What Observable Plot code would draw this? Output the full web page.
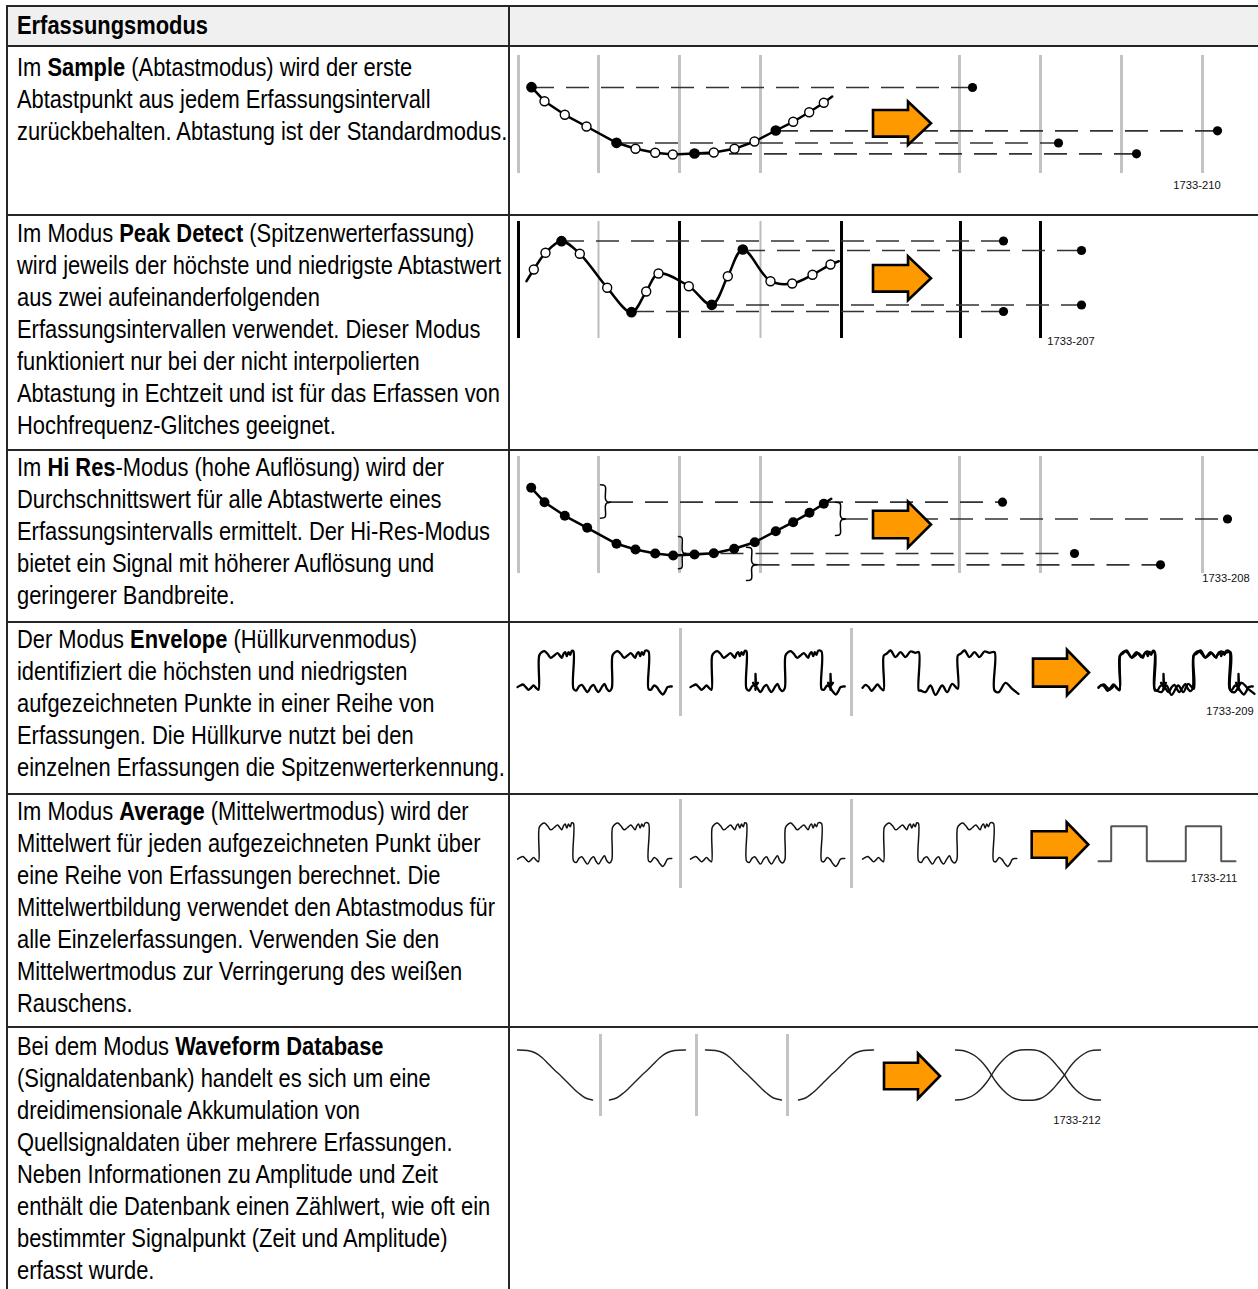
<!DOCTYPE html>
<html><head><meta charset="utf-8">
<script src="https://cdn.jsdelivr.net/npm/d3@7"></script>
<script src="https://cdn.jsdelivr.net/npm/@observablehq/plot@0.6"></script>
<style>
html,body{margin:0;padding:0;background:#fff;}
#page{position:relative;width:1258px;height:1289px;overflow:hidden;background:#fff;color:#000;}
.ln{position:absolute;background:#262626;}
.tx{position:absolute;left:17px;white-space:nowrap;font-size:26.7px;line-height:32px;transform-origin:0 0;}
</style>
</head><body><div id="page"></div>
<script>
// ---------------- table structure & text ----------------
const headerLabel = "Erfassungsmodus";
const rowTops = [46, 215, 450, 622, 794, 1027];
const rowBottoms = [215, 450, 622, 794, 1027, 1289];
const firstLineCenters = [67, 233, 467, 639, 811, 1046];
const modeTexts = [
  ["Im <b>Sample</b> (Abtastmodus) wird der erste", "Abtastpunkt aus jedem Erfassungsintervall", "zurückbehalten. Abtastung ist der Standardmodus."],
  ["Im Modus <b>Peak Detect</b> (Spitzenwerterfassung)", "wird jeweils der höchste und niedrigste Abtastwert", "aus zwei aufeinanderfolgenden", "Erfassungsintervallen verwendet. Dieser Modus", "funktioniert nur bei der nicht interpolierten", "Abtastung in Echtzeit und ist für das Erfassen von", "Hochfrequenz-Glitches geeignet."],
  ["Im <b>Hi Res</b>-Modus (hohe Auflösung) wird der", "Durchschnittswert für alle Abtastwerte eines", "Erfassungsintervalls ermittelt. Der Hi-Res-Modus", "bietet ein Signal mit höherer Auflösung und", "geringerer Bandbreite."],
  ["Der Modus <b>Envelope</b> (Hüllkurvenmodus)", "identifiziert die höchsten und niedrigsten", "aufgezeichneten Punkte in einer Reihe von", "Erfassungen. Die Hüllkurve nutzt bei den", "einzelnen Erfassungen die Spitzenwerterkennung."],
  ["Im Modus <b>Average</b> (Mittelwertmodus) wird der", "Mittelwert für jeden aufgezeichneten Punkt über", "eine Reihe von Erfassungen berechnet. Die", "Mittelwertbildung verwendet den Abtastmodus für", "alle Einzelerfassungen. Verwenden Sie den", "Mittelwertmodus zur Verringerung des weißen", "Rauschens."],
  ["Bei dem Modus <b>Waveform Database</b>", "(Signaldatenbank) handelt es sich um eine", "dreidimensionale Akkumulation von", "Quellsignaldaten über mehrere Erfassungen.", "Neben Informationen zu Amplitude und Zeit", "enthält die Datenbank einen Zählwert, wie oft ein", "bestimmter Signalpunkt (Zeit und Amplitude)", "erfasst wurde."]
];

// ---------------- Row 1: Sample ----------------
const sampleBounds = [518, 598, 679, 760, 959, 1040, 1121, 1202];
const sampleSpan = [55, 173];
const sampleCurve = [
  {t:531,v:86.7,kind:"kept"},{t:544,v:100.7,kind:"sample"},{t:564.3,v:114.3,kind:"sample"},{t:586,v:126,kind:"sample"},
  {t:616,v:142.3,kind:"kept"},{t:635,v:148.3,kind:"sample"},{t:654.7,v:152.3,kind:"sample"},{t:672.3,v:154,kind:"sample"},
  {t:694,v:153,kind:"kept"},{t:713.3,v:152,kind:"sample"},{t:734,v:148.3,kind:"sample"},{t:754,v:141,kind:"sample"},
  {t:775.3,v:130,kind:"kept"},{t:792.7,v:121.3,kind:"sample"},{t:808.7,v:111.7,kind:"sample"},{t:823.3,v:102.3,kind:"sample"},
  {t:831.7,v:96,kind:"end"}
];
const sampleOut = [{v:87,t1:531,t2:972},{v:142.5,t1:620,t2:1058},{v:153.3,t1:694,t2:1136},{v:130.3,t1:775,t2:1217}];
const sampleArrow = {t:873, neck:908, tip:931, v:123.3, body:13.3, head:21.7};
const sampleLabel = [{t:1196.5, v:185, text:"1733-210"}];

// ---------------- Row 2: Peak Detect ----------------
const peakMajor = [518, 679, 841, 960, 1040];
const peakMinor = [598, 760];
const peakSpan = [221, 338];
const peakCurve = [
  {t:526,v:280.7,kind:"end"},{t:533.3,v:269,kind:"sample"},{t:545,v:252.3,kind:"sample"},{t:561,v:240.7,kind:"kept"},
  {t:579.3,v:253.3,kind:"sample"},{t:606.7,v:287.3,kind:"sample"},{t:631,v:311.7,kind:"kept"},{t:645.7,v:291,kind:"sample"},
  {t:658,v:273,kind:"sample"},{t:688.3,v:285.7,kind:"sample"},{t:711.3,v:304.3,kind:"kept"},{t:727.3,v:275.7,kind:"sample"},
  {t:742.3,v:249,kind:"kept"},{t:770,v:280.7,kind:"sample"},{t:791.7,v:283,kind:"sample"},{t:812,v:274.3,kind:"sample"},
  {t:830,v:264,kind:"sample"},{t:838.3,v:260.7,kind:"end"}
];
const peakOut = [{v:240.5,t1:561,t2:1003},{v:250,t1:742,t2:1081},{v:304.5,t1:711,t2:1081},{v:311,t1:631,t2:1003}];
const peakArrow = {t:873, neck:908, tip:931, v:278.3, body:13.3, head:22};
const peakLabel = [{t:1070.5, v:341, text:"1733-207"}];

// ---------------- Row 3: Hi Res ----------------
const hiresBounds = [518, 598, 679, 760, 959, 1040, 1202];
const hiresSpan = [456, 573];
const hiresCurve = [
  {t:530.7,v:487.3},{t:544,v:501.7},{t:564.3,v:515.3},{t:586.7,v:527.3},{t:616,v:543.3},{t:635,v:549},
  {t:654.7,v:553},{t:672.7,v:555},{t:694,v:554},{t:713.3,v:552.7},{t:733.7,v:548.3},{t:754.3,v:541.7},
  {t:775.3,v:530.7},{t:792.7,v:521.7},{t:809,v:512.3},{t:823.3,v:503.3},{t:830.7,v:498.3,end:true}
];
const hiresBraces = [
  {t:600, w:10, v1:484.3, v2:517.7, mid:501.7},
  {t:678, w:7.5, v1:536, v2:568.3, mid:553},
  {t:746, w:10.5, v1:546.7, v2:580, mid:564.3},
  {t:835, w:10, v1:501.7, v2:535, mid:518.5}
];
const hiresOut = [{v:501.7,t1:610,t2:1002},{v:553,t1:685.5,t2:1074},{v:564.3,t1:756.5,t2:1160},{v:518.5,t1:845,t2:1227}];
const hiresArrow = {t:873, neck:908, tip:931, v:524.5, body:13.8, head:22.8};
const hiresLabel = [{t:1225.5, v:578, text:"1733-208"}];

// ---------------- Rows 4/5: acquisitions (offset from panel start / low level) ----------------
const acqA = [[0,-1.7],[2.7,-3.3],[5.3,-4.3],[8.3,-1.7],[11,1],[13.3,-0.7],[16,-3.3],[18.7,-0.7],[21,1],
  [21.7,-33.3],[24.3,-36.7],[27,-37.7],[30,-35],[33.3,-31],[36.7,-33.3],[40,-35.7],[42.7,-32.7],[44.3,-31],[46,-35],
  [47.7,-36.7],[49.3,-32.7],[51,-36.7],[52.7,-34],[54.3,-38],[56,-37.3],
  [56,0],[58.7,1.7],[61.7,-2.7],[64.3,-4],[67.7,0.7],[70,3.3],[73.3,-1.7],[76,-4],[78.7,0.7],[81,3.3],[84.3,-1.7],
  [87,-5],[89.3,0],[92,2.3],[94.3,-0.7],
  [95,-33.3],[97.7,-36.7],[100.3,-37.7],[103.3,-35],[106.7,-31],[110,-33.3],[113.3,-35.7],[116,-32.7],[117.7,-31],
  [119.3,-35],[121,-36.7],[122.7,-32.7],[124.3,-36.7],[126,-34],[127.7,-38],[131,-37.3],
  [131,0],[133.3,1],[136.7,-3.3],[139.3,-1.7],[142.7,3.3],[145.3,5.7],[147.7,2.7],[150,-1.7],[152.7,-2.3],[154.3,-2.3]];
const acqB = [[0,-1],[3,-4],[6,-2],[9,2],[12,-1],[15,-4.3],[18,-1],[21,1.5],
  [21.3,-33.3],[24,-35],[28,-38.3],[33,-31.7],[38,-36.7],[43,-31.7],[48,-37.3],[53,-36],[56.3,-36.7],
  [56.3,1.7],[58,1.7],[63,3.3],[68,-3.3],[73,6],[79.7,-3.3],[84.7,3.3],[89.7,-5],[95.3,0],
  [95.3,-33.3],[98,-35],[102,-38.3],[107,-31.7],[112,-36.7],[117,-31.7],[122,-37.3],[127,-36],[132,-36.7],
  [132,1.7],[136.3,3.3],[143,-6],[149.7,0],[156,5]];
const glitchAt = [65, 140];
const glitchShape = [[-2.5,-6],[0,-2],[0,-15],[0,1],[0,-2],[2.5,-6]];

const envSeparators = [680, 851];
const envSpan = [628, 716];
const envPanels = [
  {x0:517, y0:688.3, shapes:["A"]},
  {x0:690, y0:688.3, shapes:["A","G"]},
  {x0:862, y0:688.3, shapes:["B"]},
  {x0:1098, y0:688.3, shapes:["A","B","G"]}
];
const envArrow = {t:1033, neck:1067, tip:1089, v:672.6, body:14, head:22.8};
const envLabel = [{t:1229.5, v:711, text:"1733-209"}];

const avgSeparators = [680, 851];
const avgSpan = [799, 888];
const avgPanels = [
  {x0:517, y0:860.3, shapes:["A"]},
  {x0:690, y0:860.3, shapes:["A"]},
  {x0:862, y0:860.3, shapes:["A"]}
];
const avgResult = [{t:1098,v:860.7},{t:1110.7,v:860.7},{t:1110.7,v:825.7},{t:1146.3,v:825.7},{t:1146.3,v:860.7},
  {t:1185.3,v:860.7},{t:1185.3,v:825.7},{t:1220.7,v:825.7},{t:1220.7,v:860.7},{t:1235,v:860.7}];
const avgArrow = {t:1031.7, neck:1066.7, tip:1088.3, v:844.5, body:13.3, head:22.2};
const avgLabel = [{t:1213.5, v:878, text:"1733-211"}];

// ---------------- Row 6: Waveform Database ----------------
const dbSeparators = [600, 696, 787];
const dbSpan = [1034, 1116];
const dbAcq1 = [[517,1049.5],[527,1050],[535,1052.5],[542,1057.5],[548,1063.5],[554,1069.5],[560,1075],[566,1081],[572,1087],[578,1092.5],[585,1097.5],[592,1099.5]];
const dbAcq2 = [[609,1099.5],[616,1097.5],[623,1092.5],[629,1087],[635,1081],[641,1075],[647,1069.5],[653,1063.5],[659,1057.5],[666,1052.5],[674,1050],[685,1049.5]];
const dbAcq3 = [[705,1049.5],[715,1050],[723,1052.5],[730,1057.5],[736,1063.5],[742,1069.5],[748,1075],[754,1081],[760,1087],[766,1092.5],[773,1097.5],[781,1099.5]];
const dbAcq4 = [[798,1099.5],[805,1097.5],[812,1092.5],[818,1087],[824,1081],[830,1075],[836,1069.5],[842,1063.5],[848,1057.5],[855,1052.5],[863,1050],[873,1049.5]];
const dbSumA = [[955,1049.5],[962,1050],[968,1051.8],[974,1055],[980,1060],[986,1067],[991,1074.5],[996,1082],[1002,1089],[1008,1094.5],[1014,1098],[1020,1099.5],[1027,1099.7],[1034,1099.5],[1040,1098],[1046,1094.5],[1052,1089],[1058,1082],[1064,1074.5],[1069,1067],[1075,1060],[1081,1055],[1087,1051.3],[1093,1049.8],[1100,1049.5]];
const dbSumB = [[955,1099.5],[962,1099],[968,1097.2],[974,1094],[980,1089],[986,1082],[991,1074.5],[996,1067],[1002,1060],[1008,1054.5],[1014,1051],[1020,1049.5],[1027,1049.3],[1034,1049.5],[1040,1051],[1046,1054.5],[1052,1060],[1058,1067],[1064,1074.5],[1069,1082],[1075,1089],[1081,1094],[1087,1097.7],[1093,1099.2],[1100,1099.5]];
const dbArrow = {t:884, neck:918, tip:940, v:1076, body:13.3, head:22.5};
const dbLabel = [{t:1076.5, v:1120, text:"1733-212"}];

// ---------------- build ----------------
const page = document.getElementById("page");
const narrowOK = (() => {
  const c = document.createElement("canvas").getContext("2d");
  const s = "mmmmmmmmwwwwwwiiiiil1Abcdefgh";
  c.font = "40px monospace"; const w0 = c.measureText(s).width;
  c.font = "40px 'Liberation Sans Narrow', monospace"; const w1 = c.measureText(s).width;
  return Math.abs(w0 - w1) > 1;
})();
const textFont = narrowOK ? "'Liberation Sans Narrow','Arial Narrow',sans-serif" : "'Liberation Sans',Arial,sans-serif";
const squeeze = narrowOK ? 1 : 0.82;
const labelFont = narrowOK ? "Liberation Sans Narrow" : "Liberation Sans";
const labelSize = narrowOK ? 13.5 : 11.2;

function el(cls, css, html) {
  const d = document.createElement("div");
  d.className = cls; Object.assign(d.style, css);
  if (html != null) d.innerHTML = html;
  page.appendChild(d); return d;
}
// header background
el("", {position:"absolute", left:"7px", top:"6px", width:"1251px", height:"40px", background:"#f0f0f0"});

function textLine(html, top) {
  el("tx", {top: top + "px", fontFamily: textFont, transform: `scaleX(${squeeze})`}, html);
}
textLine(`<b>${headerLabel}</b>`, 9);
modeTexts.forEach((lines, r) => lines.forEach((h, i) => textLine(h, firstLineCenters[r] - 16 + i * 32)));

function cellPlot(top, bottom, marks) {
  const h = bottom - top;
  const svg = Plot.plot({
    width: 748, height: h,
    marginTop: 0, marginRight: 0, marginBottom: 0, marginLeft: 0,
    x: {domain: [510, 1258], range: [0, 748], axis: null},
    y: {domain: [top, bottom], range: [0, h], axis: null},
    style: {background: "transparent", overflow: "visible"},
    marks
  });
  Object.assign(svg.style, {position: "absolute", left: "510px", top: top + "px"});
  page.appendChild(svg);
}

const GRAY = "#c3c3c3";
const ORANGE = "#ff9900";
const DASH = "23,12";
const arrowOutline = a => [
  {t: a.t, top: a.v - a.body, bot: a.v + a.body},
  {t: a.neck, top: a.v - a.body, bot: a.v + a.body},
  {t: a.neck, top: a.v - a.head, bot: a.v + a.head},
  {t: a.tip, top: a.v, bot: a.v}
];
const arrowMark = a => Plot.areaY(arrowOutline(a), {x: "t", y1: "top", y2: "bot", fill: ORANGE, stroke: "#000", strokeWidth: 2.6, strokeLinejoin: "miter", strokeMiterlimit: 6});
const labelMark = d => Plot.text(d, {x: "t", y: "v", text: "text", fontSize: labelSize, fontFamily: labelFont, fill: "#111"});
const dashMark = d => Plot.ruleY(d, {y: "v", x1: "t1", x2: "t2", stroke: "#333", strokeWidth: 1.7, strokeDasharray: DASH});
const endDots = d => Plot.dot(d, {x: "t2", y: "v", r: 4.6, fill: "#000", stroke: "none"});
const sepMark = (xs, span, color, w) => Plot.ruleX(xs, {x: d => d, y1: span[0], y2: span[1], stroke: color, strokeWidth: w});

// Row 1
cellPlot(rowTops[0], rowBottoms[0], [
  sepMark(sampleBounds, sampleSpan, GRAY, 3),
  dashMark(sampleOut),
  Plot.line(sampleCurve, {x: "t", y: "v", stroke: "#000", strokeWidth: 2.5}),
  Plot.dot(sampleCurve, {filter: d => d.kind === "sample", x: "t", y: "v", r: 4.5, fill: "#fff", stroke: "#000", strokeWidth: 1.4}),
  Plot.dot(sampleCurve, {filter: d => d.kind === "kept", x: "t", y: "v", r: 4.6, fill: "#000", stroke: "#000"}),
  endDots(sampleOut),
  arrowMark(sampleArrow),
  labelMark(sampleLabel)
]);

// Row 2
cellPlot(rowTops[1], rowBottoms[1], [
  sepMark(peakMinor, peakSpan, "#bdbdbd", 2),
  sepMark(peakMajor, peakSpan, "#000", 3),
  dashMark(peakOut),
  Plot.line(peakCurve, {x: "t", y: "v", stroke: "#000", strokeWidth: 2.5, curve: "catmull-rom"}),
  Plot.dot(peakCurve, {filter: d => d.kind === "sample", x: "t", y: "v", r: 4.5, fill: "#fff", stroke: "#000", strokeWidth: 1.4}),
  Plot.dot(peakCurve, {filter: d => d.kind === "kept", x: "t", y: "v", r: 4.6, fill: "#000", stroke: "#000"}),
  endDots(peakOut),
  arrowMark(peakArrow),
  labelMark(peakLabel)
]);

// Row 3
const braceOutline = b => [
  [0,0],[0.4,0.7],[0.5,2.5],[0.5,-3],[0.65,-0.7],[1,0],[0.65,0.7],[0.5,3],[0.5,-2.5],[0.4,-0.7],[0,0]
].map(([fx, dv], i) => ({
  t: b.t + fx * b.w,
  v: (i <= 2) ? b.v1 + dv : (i >= 8 ? b.v2 + dv : b.mid + dv),
  z: b.t
}));
cellPlot(rowTops[2], rowBottoms[2], [
  sepMark(hiresBounds, hiresSpan, GRAY, 3),
  dashMark(hiresOut),
  Plot.line(hiresCurve, {x: "t", y: "v", stroke: "#000", strokeWidth: 2.5}),
  Plot.dot(hiresCurve, {filter: d => !d.end, x: "t", y: "v", r: 5, fill: "#000"}),
  Plot.line(hiresBraces.flatMap(braceOutline), {x: "t", y: "v", z: "z", stroke: "#000", strokeWidth: 1.5, curve: "catmull-rom"}),
  endDots(hiresOut),
  arrowMark(hiresArrow),
  labelMark(hiresLabel)
]);

// Rows 4 and 5: place acquisitions in their panels
const waveShapes = {A: acqA, B: acqB};
function waveRows(panels) {
  const rows = [];
  panels.forEach((p, pi) => p.shapes.forEach(s => {
    if (s === "G") glitchAt.forEach((g, gi) => glitchShape.forEach(([dx, dy]) => rows.push({t: p.x0 + g + dx, v: p.y0 + dy, z: `${pi}-G${gi}`})));
    else waveShapes[s].forEach(([dx, dy]) => rows.push({t: p.x0 + dx, v: p.y0 + dy, z: `${pi}-${s}`}));
  }));
  return rows;
}
cellPlot(rowTops[3], rowBottoms[3], [
  sepMark(envSeparators, envSpan, GRAY, 3),
  Plot.line(waveRows(envPanels), {x: "t", y: "v", z: "z", stroke: "#000", strokeWidth: 2.3, curve: "catmull-rom"}),
  arrowMark(envArrow),
  labelMark(envLabel)
]);
cellPlot(rowTops[4], rowBottoms[4], [
  sepMark(avgSeparators, avgSpan, GRAY, 3),
  Plot.line(waveRows(avgPanels), {x: "t", y: "v", z: "z", stroke: "#111", strokeWidth: 1.5, curve: "catmull-rom"}),
  Plot.line(avgResult, {x: "t", y: "v", stroke: "#555", strokeWidth: 2, strokeLinejoin: "miter"}),
  arrowMark(avgArrow),
  labelMark(avgLabel)
]);

// Row 6
const dbRows = [dbAcq1, dbAcq2, dbAcq3, dbAcq4, dbSumA, dbSumB].flatMap((c, i) => c.map(([t, v]) => ({t, v, z: i})));
cellPlot(rowTops[5], rowBottoms[5], [
  sepMark(dbSeparators, dbSpan, GRAY, 3),
  Plot.line(dbRows, {x: "t", y: "v", z: "z", stroke: "#222", strokeWidth: 1.4, curve: "catmull-rom"}),
  arrowMark(dbArrow),
  labelMark(dbLabel)
]);

// table rules (on top)
[6, ...rowTops].forEach(y => el("ln", {left: "7px", top: (y - 0.75) + "px", width: "1251px", height: "1.5px"}));
[7, 509].forEach(x => el("ln", {left: (x - 0.75) + "px", top: "5.25px", width: "1.5px", height: "1284px"}));
</script></body></html>
